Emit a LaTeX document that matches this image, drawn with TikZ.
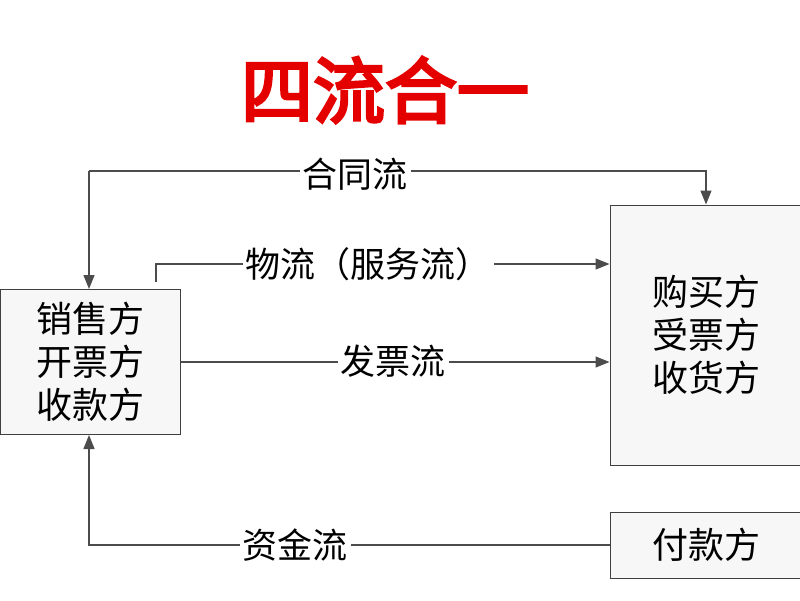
\documentclass[tikz,border=0pt]{standalone}
\usepackage{fontspec}
\setmainfont{Noto Sans CJK SC}
\newfontfamily\cjkb{Noto Sans CJK SC}[FakeBold=4]
\usetikzlibrary{arrows.meta}
\begin{document}
\begin{tikzpicture}[x=1pt,y=-1pt,
  box/.style={draw=black!75,line width=1pt,fill=black!3,inner sep=0pt,align=center,font=\fontsize{36}{43}\selectfont},
  lbl/.style={fill=white,inner sep=3pt,font=\fontsize{35}{40}\selectfont},
  con/.style={draw=black!70,line width=1.3pt,-{Triangle[length=14pt,width=11pt]}}]
\useasboundingbox (0,0) rectangle (800,600);
\node[font=\cjkb\fontsize{72}{80}\selectfont,text=red!90!black] (t) at (385,90) {四流合一};
\node[box,minimum width=180pt,minimum height=145pt] (L) at (90,362) {销售方\\开票方\\收款方};
\node[box,minimum width=192pt,minimum height=260pt] (R) at (706,335) {购买方\\受票方\\收货方};
\node[box,minimum width=192pt,minimum height=66pt] (P) at (706,545) {付款方};
\coordinate (c1) at (89,171);
\coordinate (c2) at (706,171);
\draw[con] (c1) -- (L.north -| c1);
\draw[con] (c1) -- (c2) -- (R.north -| c2);
\node[lbl] (l1) at (355,174) {合同流};
\coordinate (w0) at (156,282);
\coordinate (w1) at (156,264);
\draw[con] (w0) -- (w1) -- (R.west |- w1);
\node[lbl] (l2) at (368,264) {物流（服务流）};
\draw[con] (L.east |- 0,362) coordinate (f0) -- (R.west |- f0);
\node[lbl] (l3) at (393,361) {发票流};
\coordinate (z) at (89,545);
\draw[con] (P.west) -- (z) -- (L.south -| z);
\node[lbl] (l4) at (295,545) {资金流};
\end{tikzpicture}
\end{document}
